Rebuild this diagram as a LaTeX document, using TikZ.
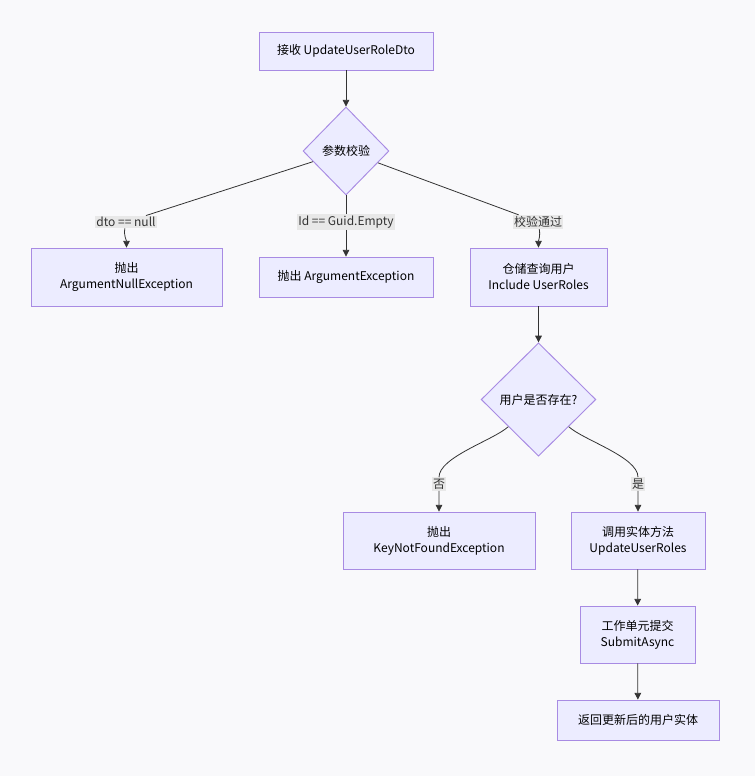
\documentclass[tikz,border=0pt]{standalone}
\usepackage{fontspec}
\setmainfont{Noto Sans CJK SC}
\usepackage{tikz}
\usetikzlibrary{arrows.meta,shapes.geometric,positioning}
\definecolor{boxfill}{HTML}{ECECFF}
\definecolor{boxline}{HTML}{A88BE3}
\definecolor{edgeline}{HTML}{333333}
\definecolor{bgcol}{HTML}{F9F9FB}
\definecolor{lblfill}{HTML}{E8E8E8}

\begin{document}
\begin{tikzpicture}[
    x=0.75pt, y=-0.75pt,
    font=\fontsize{9}{12}\selectfont,
    stepbox/.style={draw=boxline, fill=boxfill, line width=0.7pt, align=center, inner sep=2pt},
    check/.style={diamond, draw=boxline, fill=boxfill, line width=0.7pt, align=center, inner sep=0pt},
    arr/.style={-{Triangle[length=5pt,width=5pt]}, draw=edgeline, line width=0.6pt},
    lbl/.style={fill=lblfill, inner sep=1pt, text=edgeline}
]
\fill[bgcol] (0,0) rectangle (755,776);
\useasboundingbox (0,0) rectangle (755,776);

\node[stepbox, minimum width=130.5pt, minimum height=28.5pt] (recv) at (346,51) {接收 UpdateUserRoleDto};
\node[check, minimum width=64.5pt, minimum height=66pt] (chk) at (346,151) {参数校验};
\node[stepbox, minimum width=143.25pt, minimum height=43.5pt] (nullex) at (126.5,277) {抛出\\ArgumentNullException};
\node[stepbox, minimum width=130.5pt, minimum height=30pt] (argex) at (346,277) {抛出 ArgumentException};
\node[stepbox, minimum width=102.75pt, minimum height=43.5pt] (repo) at (538.5,277) {仓储查询用户\\Include UserRoles};
\node[check, minimum width=86pt, minimum height=85pt] (exists) at (538.5,399.5) {用户是否存在?};
\node[stepbox, minimum width=144pt, minimum height=42.75pt] (keynf) at (439,540.5) {抛出\\KeyNotFoundException};
\node[stepbox, minimum width=100.5pt, minimum height=42.75pt] (update) at (638,540.5) {调用实体方法\\UpdateUserRoles};
\node[stepbox, minimum width=86.25pt, minimum height=42.75pt] (commit) at (637.5,634.5) {工作单元提交\\SubmitAsync};
\node[stepbox, minimum width=121.5pt, minimum height=30pt] (ret) at (638,720) {返回更新后的用户实体};

% edge labels
\node[lbl] (l1) at (126,222) {dto == null};
\node[lbl] (l2) at (346,222) {Id == Guid.Empty};
\node[lbl] (l3) at (538,222) {校验通过};
\node[lbl] (l4) at (439,484) {否};
\node[lbl] (l5) at (638,484) {是};

\draw[arr] (recv) -- (chk);
\draw[arr] (chk) -- (l1) to[out=-100,in=90] (nullex);
\draw[arr] (chk) -- (l2) -- (argex);
\draw[arr] (chk) -- (l3) to[out=-80,in=90] (repo);
\draw[arr] (repo) -- (exists);
\draw[arr] (exists) to[out=222,in=90,looseness=0.6] (l4) -- (keynf);
\draw[arr] (exists) to[out=-42,in=90,looseness=0.6] (l5) -- (update);
\draw[arr] (update) -- (commit);
\draw[arr] (commit) -- (ret);
\end{tikzpicture}
\end{document}
